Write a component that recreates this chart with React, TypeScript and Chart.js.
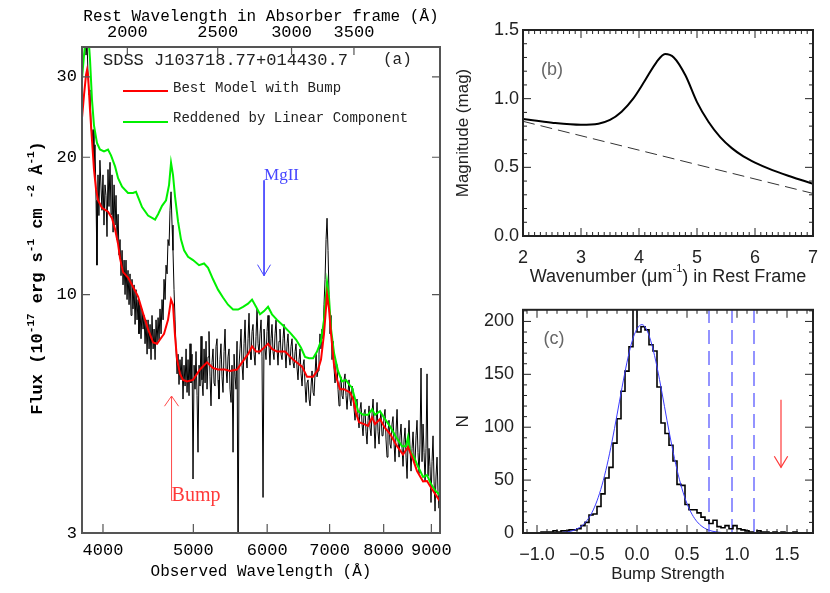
import React, { useEffect, useRef } from 'react';
import { Chart, registerables } from 'chart.js';
Chart.register(...registerables);

const MONO = '"Liberation Mono", "DejaVu Sans Mono", monospace';
const SERIF = '"Liberation Serif", "DejaVu Serif", serif';
const SANS = '"Liberation Sans", "DejaVu Sans", sans-serif';

// ---------------- Panel (a): spectrum ----------------
const restFactor = 2.124; // 1 + z of the absorber
const obsMin = 3798;
const obsMax = 9194;
const obsTicks = [4000, 5000, 6000, 7000, 8000, 9000];
const restTicks = [2000, 2500, 3000, 3500];
const fluxTicks = [3, 10, 20, 30];

const specWave = [
  3826, 3836, 3846, 3855, 3865, 3874, 3884, 3893, 3903, 3912, 3922, 3932, 3941, 3951, 3960, 3970,
  3990, 4000, 4010, 4020, 4030, 4040, 4050, 4060, 4070, 4080, 4090, 4101, 4111, 4121, 4131, 4141,
  4152, 4162, 4172, 4182, 4193, 4203, 4214, 4224, 4234, 4245, 4255, 4266, 4276, 4287, 4297, 4308,
  4319, 4330, 4340, 4351, 4362, 4372, 4383, 4394, 4405, 4416, 4427, 4438, 4449, 4460, 4471, 4482,
  4493, 4504, 4515, 4527, 4538, 4549, 4560, 4571, 4583, 4594, 4605, 4617, 4628, 4640, 4651, 4663,
  4674, 4686, 4697, 4709, 4720, 4732, 4744, 4755, 4767, 4779, 4791, 4803, 4815, 4826, 4838,
  4850, 4862, 4874, 4886, 4899, 4911, 4923, 4935, 4947, 4959,
  4971, 4984, 4996, 5009, 5021, 5033, 5046, 5058, 5071, 5083,
  5096, 5108, 5121, 5134, 5147, 5159, 5172, 5185, 5197, 5210,
  5223, 5236, 5249, 5262, 5275, 5288, 5301, 5314, 5327, 5340,
  5353, 5367, 5380, 5394, 5407, 5420, 5434, 5447, 5461, 5474,
  5488, 5501, 5515, 5529, 5543, 5556, 5570, 5584, 5597, 5611,
  5625, 5639, 5653, 5667, 5681, 5695, 5709, 5723, 5737, 5751,
  5765, 5780, 5794, 5809, 5823, 5837, 5852, 5866, 5881, 5895,
  5910, 5924, 5939, 5954, 5969, 5983, 5998, 6013, 6027, 6042,
  6057, 6072, 6087, 6102, 6118, 6133, 6148, 6163, 6178, 6193,
  6209, 6224, 6240, 6255, 6271, 6286, 6302, 6317, 6333, 6348,
  6364, 6380, 6396, 6412, 6428, 6443, 6459, 6475, 6491, 6507,
  6523, 6540, 6556, 6572, 6589, 6605, 6621, 6637, 6654, 6670,
  6687, 6703, 6720, 6736, 6753, 6770, 6786, 6803, 6819, 6836,
  6853, 6870, 6887, 6904, 6922, 6939, 6956, 6973, 6990, 7007,
  7025, 7042, 7060, 7077, 7095, 7112, 7130, 7147, 7165, 7182,
  7200, 7218, 7236, 7254, 7272, 7290, 7308, 7326, 7344, 7362,
  7380, 7399, 7417, 7436, 7454, 7472, 7491, 7509, 7528, 7546,
  7565, 7584, 7603, 7622, 7641, 7659, 7678, 7697, 7716, 7735,
  7754, 7774, 7793, 7812, 7832, 7851, 7870, 7889, 7909, 7928,
  7948, 7968, 7987, 8007, 8027, 8047, 8067, 8086, 8106, 8126,
  8146, 8167, 8187, 8208, 8228, 8248, 8269, 8289, 8310, 8330,
  8351, 8372, 8392, 8413, 8434, 8455, 8476, 8496, 8517, 8538,
  8559, 8581, 8602, 8623, 8645, 8666, 8687, 8708, 8730, 8751,
  8773, 8795, 8817, 8839, 8861, 8882, 8904, 8926, 8948, 8970,
  8992, 9015, 9037, 9060, 9082, 9104, 9127, 9149, 9172, 9194,
];
const specFlux = [
  37, 33.5, 35.5, 30.3, 27.4, 28.1, 23.5, 21.8, 23.0, 18.8, 21.3, 16.1, 11.6, 18.3, 14.9, 19.7,
  15.3, 18.3, 14.2, 17.4, 16.5, 13.4, 18.8, 15.6, 19.5, 15.0, 18.3, 13.7, 17.4, 14.2, 16.5, 13.2,
  15.0, 12.2, 13.2, 11.0, 12.5, 10.5, 11.9, 10.0, 11.9, 9.75, 11.3, 9.5, 11.1, 9.0, 10.8, 9.3,
  10.5, 8.6, 10.25, 8.8, 9.75, 8.2, 9.5, 8.0, 9.3, 8.4, 9.0, 7.8, 8.8, 7.4, 8.8, 7.6,
  8.6, 7.2, 9.0, 7.6, 8.4, 7.2, 8.8, 7.8, 8.9, 7.95, 9.3, 8.2, 9.75, 8.8, 10.8, 9.75,
  11.6, 11.1, 13.2, 12.8, 15.3, 16.8, 14.2, 12.5, 10.25, 8.8, 7.6, 6.7, 7.4, 6.35, 7.2,
  6.5, 7.3, 5.9, 7.0, 6.3, 7.6, 6.1, 7.2, 6.0, 7.8,
  6.4, 7.4, 3.94, 7.0, 6.2, 7.5, 6.0, 4.51, 7.0, 6.3,
  8.1, 6.5, 6.0, 7.6, 6.4, 7.9, 6.2, 7.3, 8.3, 6.6,
  5.7, 7.1, 7.6, 6.4, 6.3, 7.7, 8.0, 6.5, 5.9, 7.2,
  7.8, 6.6, 6.1, 7.5, 8.4, 6.9, 6.4, 7.3, 7.6, 6.2,
  5.8, 7.0, 4.51, 7.4, 6.6, 6.2, 7.9, 2.5, 7.0, 7.6,
  8.4, 7.0, 6.5, 7.8, 8.8, 7.3, 6.9, 8.0, 9.1, 7.5,
  7.2, 8.3, 8.6, 7.4, 7.0, 8.1, 9.3, 7.8, 7.4, 8.2,
  8.8, 7.3, 3.59, 8.4, 7.6, 7.2, 8.3, 9.0, 7.7, 7.0,
  8.0, 8.6, 7.5, 7.2, 8.2, 8.8, 7.6, 7.0, 7.9, 8.4,
  7.4, 7.2, 8.0, 8.6, 7.5, 6.9, 7.8, 8.2, 7.3, 7.0,
  7.7, 8.0, 7.1, 6.9, 7.5, 7.8, 6.9, 6.5, 7.2, 7.6,
  6.7, 6.3, 7.0, 7.2, 6.3, 5.8, 6.4, 6.5, 5.9, 5.7,
  6.3, 6.8, 6.1, 6.0, 6.7, 7.4, 6.6, 6.8, 7.4, 8.2,
  7.6, 8.4, 8.0, 9.5, 10.8, 13.2, 14.7, 12.5, 10.0, 8.2,
  9.0, 7.2, 7.9, 6.9, 6.4, 7.1, 7.0, 6.2, 5.7, 6.4,
  6.6, 6.0, 5.9, 6.5, 6.7, 6.0, 5.6, 6.1, 6.5, 5.9,
  5.7, 6.3, 6.2, 5.6, 5.3, 5.8, 5.9, 5.4, 5.1, 5.6,
  5.8, 5.2, 4.9, 5.5, 5.6, 5.0, 4.7, 5.3, 5.7, 5.1,
  4.9, 5.5, 5.9, 5.2, 4.6, 5.2, 5.8, 5.0, 4.7, 5.3,
  5.5, 4.9, 4.9, 5.4, 5.6, 4.8, 4.4, 5.0, 5.3, 4.7,
  4.6, 5.2, 5.4, 4.7, 4.3, 5.0, 5.6, 4.8, 4.4, 4.9,
  5.2, 4.6, 4.2, 4.8, 5.1, 4.4, 3.95, 4.7, 5.3, 4.6,
  4.1, 4.6, 5.0, 4.4, 4.3, 4.9, 5.3, 4.5, 4.05, 4.7,
  6.9, 4.3, 5.2, 4.5, 3.9, 4.6, 6.7, 4.0, 4.6, 4.2,
  3.5, 4.3, 4.9, 3.9, 3.35, 4.0, 4.4, 3.7, 3.4, 3.9,
];

const bestWave = [
  3798, 3817, 3836, 3846, 3855, 3874, 3893, 3912, 3932, 3951, 3990, 4050, 4090, 4121, 4152, 4172,
  4203, 4255, 4308, 4362, 4416, 4471, 4527, 4571, 4605, 4651, 4697, 4732, 4755, 4779, 4803, 4838,
  4874, 4923, 4996, 5083, 5172, 5249, 5314, 5407, 5474, 5570, 5639, 5723, 5780, 5837, 5895, 5954,
  6013, 6072, 6148, 6271, 6396, 6540, 6621, 6720, 6803, 6853, 6904, 6956, 6990, 7025, 7077, 7129,
  7182, 7254, 7308, 7362, 7417, 7472, 7528, 7622, 7697, 7774, 7831, 7928, 8027, 8126, 8269, 8392,
  8496, 8602, 8687, 8817, 8904, 9015, 9104, 9194,
];
const bestFlux = [
  24.4, 27.4, 30.3, 31.1, 30.3, 25.4, 21.8, 18.8, 17.0, 16.1, 15.5, 15.2, 14.7, 13.9, 12.9, 12.0,
  11.2, 10.9, 10.4, 9.9, 9.1, 8.4, 7.85, 7.8, 7.97, 8.2, 8.8, 9.75, 9.5, 8.1, 7.2, 6.7,
  6.5, 6.45, 6.5, 6.85, 7.1, 6.9, 6.85, 6.85, 6.8, 6.85, 7.1, 7.4, 7.7, 7.5, 7.5, 7.65,
  7.8, 7.6, 7.5, 7.5, 7.2, 6.95, 6.6, 6.6, 6.85, 7.2, 8.2, 10.0, 9.3, 8.2, 7.0, 6.5,
  6.2, 6.2, 6.15, 6.1, 5.9, 5.5, 5.25, 5.2, 5.15, 5.38, 5.2, 5.33, 5.1, 4.95, 4.65, 4.46,
  4.63, 4.35, 4.1, 3.89, 3.9, 3.74, 3.63, 3.52,
];

const linWave = [
  3798, 3817, 3836, 3855, 3874, 3893, 3912, 3941, 3970, 4010, 4050, 4080, 4121, 4152, 4193, 4255,
  4308, 4340, 4405, 4471, 4549, 4583, 4628, 4674, 4709, 4732, 4755, 4779, 4815, 4850, 4887, 4935,
  4996, 5071, 5134, 5185, 5249, 5314, 5380, 5447, 5515, 5584, 5653, 5723, 5780, 5837, 5895, 5954,
  6013, 6072, 6148, 6240, 6348, 6443, 6523, 6588, 6654, 6720, 6786, 6853, 6904, 6939, 6956, 6990,
  7025, 7077, 7147, 7218, 7290, 7344, 7399, 7454, 7509, 7603, 7697, 7774, 7831, 7928, 8027, 8126,
  8248, 8372, 8455, 8496, 8538, 8623, 8687, 8817, 8904, 8992, 9082, 9194,
];
const linFlux = [
  29.8, 33.5, 37, 38, 32.7, 26.7, 23.5, 21.5, 20.8, 20.6, 20.8, 20.2, 19.1, 18.0, 17.25, 16.7,
  16.7, 16.8, 15.55, 14.9, 14.6, 15.0, 15.65, 16.1, 17.4, 19.45, 18.3, 16.4, 14.45, 13.2, 12.5, 12.1,
  11.9, 11.6, 11.7, 11.45, 10.8, 10.25, 9.85, 9.5, 9.27, 9.27, 9.4, 9.55, 9.75, 9.4, 9.05, 9.2,
  9.4, 9.05, 8.8, 8.55, 8.25, 7.97, 7.65, 7.3, 7.25, 7.25, 7.5, 7.9, 8.8, 10.0, 10.65, 9.85,
  8.4, 7.45, 6.8, 6.45, 6.5, 6.35, 6.25, 5.9, 5.55, 5.45, 5.45, 5.6, 5.45, 5.55, 5.33, 5.14,
  4.87, 4.65, 4.65, 4.87, 4.53, 4.4, 4.24, 3.98, 4.02, 3.84, 3.72, 3.63,
];

// annotation arrows (wavelength, flux)
const mgiiShaftWave = [5954, 5954];
const mgiiShaftFlux = [17.8, 11.0];
const mgiiHeadWave = [5859, 5954, 6050];
const mgiiHeadFlux = [11.63, 11.0, 11.63];
const bumpShaftWave = [4738, 4738];
const bumpShaftFlux = [3.53, 5.99];
const bumpHeadWave = [4656, 4738, 4821];
const bumpHeadFlux = [5.69, 5.99, 5.69];

// ---------------- Panel (b): extinction curve ----------------
const waveNumber = [2.0, 2.5, 3.0, 3.3, 3.5, 3.7, 3.9, 4.1, 4.3, 4.45, 4.6, 4.8, 5.0, 5.2, 5.4, 5.6, 5.8, 6.0, 6.3, 6.6, 7.0];
const magWithBump = [0.852, 0.825, 0.81, 0.818, 0.845, 0.905, 1.0, 1.13, 1.265, 1.325, 1.3, 1.17, 0.975, 0.83, 0.72, 0.64, 0.58, 0.535, 0.48, 0.435, 0.38];
const linearWaveNumber = [2.0, 7.0];
const magLinear = [0.835, 0.31];
const bTicksX = [2, 3, 4, 5, 6, 7];
const bTicksY = [0, 0.5, 1.0, 1.5];

// ---------------- Panel (c): bump strength histogram ----------------
const histEdges = [
  -1.0, -0.96, -0.92, -0.88, -0.84, -0.8, -0.76, -0.72, -0.68, -0.64, -0.6, -0.56, -0.52, -0.48, -0.44, -0.4,
  -0.36, -0.32, -0.28, -0.24, -0.2, -0.16, -0.12, -0.08, -0.04, 0.0, 0.04, 0.08, 0.12, 0.16, 0.2, 0.24,
  0.28, 0.32, 0.36, 0.4, 0.44, 0.48, 0.52, 0.56, 0.6, 0.64, 0.68, 0.72, 0.76, 0.8, 0.84, 0.88,
  0.92, 0.96, 1.0, 1.04, 1.08, 1.12, 1.16, 1.2, 1.24, 1.28, 1.32, 1.36, 1.4, 1.44, 1.48, 1.52,
  1.56, 1.6, 1.64, 1.68, 1.72,
];
const histCounts = [
  0, 1, 1, 1, 2, 1, 2, 2, 3, 3, 4, 7, 10, 17, 18, 25,
  37, 52, 62, 85, 108, 134, 153, 176, 214, 190, 195, 192, 178, 172, 138, 104,
  94, 83, 68, 46, 45, 27, 22, 22, 19, 15, 12, 9, 12, 6, 5, 7,
  4, 7, 4, 3, 2, 1, 0, 2, 1, 1, 0, 1, 0, 1, 0, 0,
  1, 0, 0, 0, 0,
];
const gaussX = [-1.0, -0.9, -0.8, -0.7, -0.65, -0.6, -0.55, -0.5, -0.45, -0.4, -0.35, -0.3, -0.25, -0.2, -0.15, -0.1, -0.05, 0.0, 0.05, 0.1, 0.15, 0.2, 0.25, 0.3, 0.35, 0.4, 0.45, 0.5, 0.55, 0.6, 0.65, 0.7, 0.75, 0.8, 0.9, 1.0];
const gaussN = [0, 0.1, 0.3, 1.0, 2.0, 3.9, 6.9, 11.9, 19.4, 30.4, 45.2, 64, 86.5, 111.6, 137.5, 161.5, 181, 193, 197, 191.5, 177.5, 157, 132.5, 106.4, 81.8, 59.8, 41.8, 27.8, 17.7, 10.7, 6.2, 3.4, 1.8, 0.9, 0.2, 0];
const thresholds = [0.72, 0.95, 1.17];
const arrowCX = [1.44, 1.44];
const arrowCY = [126, 62];
const arrowHeadCX = [1.373, 1.44, 1.507];
const arrowHeadCY = [72.6, 62, 72.6];
const cTicksX = [-1.0, -0.5, 0.0, 0.5, 1.0, 1.5];
const cTicksY = [0, 50, 100, 150, 200];

// ---------------- helpers ----------------
const pts = (xs: number[], ys: number[]) => xs.map((x, i) => ({ x, y: ys[i] }));
const fixSize = (w?: number, h?: number) => (s: any) => {
  if (w !== undefined) s.width = w;
  if (h !== undefined) s.height = h;
};
const setTicks = (values: number[]) => (s: any) => {
  s.ticks = values.map((v) => ({ value: v }));
};
const minorTicks = (a: number, b: number, step: number, major: number) => {
  const out: number[] = [];
  const n = Math.round((b - a) / step);
  for (let i = 0; i <= n; i++) {
    const v = Math.round((a + i * step) * 1000) / 1000;
    const r = v / major;
    if (Math.abs(r - Math.round(r)) > 1e-6) out.push(v);
  }
  return out;
};

type TickSpec = { scale: string; values: number[]; len: number; sides: string[] };
const makeFrame = (color: string, width: number, tickWidth: number, specs: TickSpec[]) => ({
  id: 'frameTicks',
  afterDatasetsDraw(chart: any) {
    const { ctx, chartArea: a } = chart;
    ctx.save();
    ctx.strokeStyle = color;
    ctx.lineWidth = tickWidth;
    ctx.beginPath();
    for (const t of specs) {
      const s = chart.scales[t.scale];
      for (const v of t.values) {
        const p = s.getPixelForValue(v);
        for (const side of t.sides) {
          if (side === 'bottom') { ctx.moveTo(p, a.bottom); ctx.lineTo(p, a.bottom - t.len); }
          if (side === 'top') { ctx.moveTo(p, a.top); ctx.lineTo(p, a.top + t.len); }
          if (side === 'left') { ctx.moveTo(a.left, p); ctx.lineTo(a.left + t.len, p); }
          if (side === 'right') { ctx.moveTo(a.right, p); ctx.lineTo(a.right - t.len, p); }
        }
      }
    }
    ctx.stroke();
    ctx.lineWidth = width;
    ctx.strokeRect(a.left, a.top, a.right - a.left, a.bottom - a.top);
    ctx.restore();
  },
});

type Part = { t: string; sup?: boolean };
type TextItem = {
  text?: string; parts?: Part[]; x: number; y: number; data?: boolean; xs?: string; ys?: string;
  family?: string; size?: number; weight?: string; color: string; align?: string; baseline?: string;
  rotate?: number; lineTo?: number; width?: number;
};
const makeTexts = (items: TextItem[]) => ({
  id: 'texts',
  afterDatasetsDraw(chart: any) {
    const { ctx, scales } = chart;
    for (const it of items) {
      let x = it.x;
      let y = it.y;
      if (it.data) {
        x = scales[it.xs || 'x'].getPixelForValue(it.x);
        y = scales[it.ys || 'y'].getPixelForValue(it.y);
      }
      ctx.save();
      ctx.translate(x, y);
      if (it.rotate) ctx.rotate(it.rotate);
      if (it.lineTo !== undefined) {
        ctx.strokeStyle = it.color;
        ctx.lineWidth = it.width || 2;
        ctx.beginPath();
        ctx.moveTo(0, 0);
        ctx.lineTo(it.lineTo, 0);
        ctx.stroke();
        ctx.restore();
        continue;
      }
      const size = it.size || 16;
      const parts: Part[] = it.parts || [{ t: it.text || '' }];
      const fontFor = (sup?: boolean) => `${it.weight || 'normal'} ${sup ? Math.round(size * 0.62) : size}px ${it.family || SANS}`;
      const widths = parts.map((p) => { ctx.font = fontFor(p.sup); return ctx.measureText(p.t).width; });
      const total = widths.reduce((s, w) => s + w, 0);
      let cx = it.align === 'center' ? -total / 2 : it.align === 'right' ? -total : 0;
      ctx.fillStyle = it.color;
      ctx.textAlign = 'left';
      ctx.textBaseline = (it.baseline || 'middle') as CanvasTextBaseline;
      parts.forEach((p, i) => {
        ctx.font = fontFor(p.sup);
        ctx.fillText(p.t, cx, p.sup ? -size * 0.42 : 0);
        cx += widths[i];
      });
      ctx.restore();
    }
  },
});

const noGrid = { display: false, drawTicks: false };
const noBorder = { display: false };
const baseOptions = {
  animation: false,
  responsive: false,
  events: [],
  plugins: { legend: { display: false }, tooltip: { enabled: false } },
};
const line = (data: any[], color: string, width: number, extra: any = {}) => ({
  data, borderColor: color, backgroundColor: color, borderWidth: width, pointRadius: 0, fill: false, tension: 0, ...extra,
});

// ---------------- configs ----------------
const configA = () => ({
  type: 'line',
  data: {
    datasets: [
      line(pts(bestWave, bestFlux), '#ff0000', 2),
      line(pts(linWave, linFlux), '#00f000', 2),
      line(pts(specWave, specFlux), '#000000', 1),
      line(pts(mgiiShaftWave, mgiiShaftFlux), '#4646ff', 1),
      line(pts(mgiiHeadWave, mgiiHeadFlux), '#4646ff', 1),
      line(pts(bumpShaftWave, bumpShaftFlux), '#ff4a4a', 1),
      line(pts(bumpHeadWave, bumpHeadFlux), '#ff4a4a', 1),
    ],
  },
  options: {
    ...baseOptions,
    layout: { padding: { right: 20 } },
    scales: {
      x: {
        type: 'logarithmic', position: 'bottom', min: obsMin, max: obsMax,
        afterFit: fixSize(undefined, 60), afterBuildTicks: setTicks(obsTicks),
        grid: noGrid, border: noBorder,
        ticks: { callback: (v: number) => String(v), font: { family: MONO, size: 17 }, color: '#000', padding: 7, maxRotation: 0, minRotation: 0, autoSkip: false },
        title: { display: true, text: 'Observed Wavelength (Å)', font: { family: MONO, size: 16 }, color: '#000', padding: { top: 0, bottom: 12 } },
      },
      x2: {
        type: 'logarithmic', position: 'top', axis: 'x', min: obsMin / restFactor, max: obsMax / restFactor,
        afterFit: fixSize(undefined, 47), afterBuildTicks: setTicks(restTicks),
        grid: noGrid, border: noBorder,
        ticks: { callback: (v: number) => String(v), font: { family: MONO, size: 17 }, color: '#000', padding: 4, maxRotation: 0, minRotation: 0, autoSkip: false },
        title: { display: true, text: 'Rest Wavelength in Absorber frame (Å)', font: { family: MONO, size: 16 }, color: '#000', padding: { top: 7, bottom: 0 } },
      },
      y: {
        type: 'logarithmic', position: 'left', min: 3, max: 34.9,
        afterFit: fixSize(82), afterBuildTicks: setTicks(fluxTicks),
        grid: noGrid, border: noBorder,
        ticks: { callback: (v: number) => String(v), font: { family: MONO, size: 17 }, color: '#000', padding: 5, autoSkip: false },
      },
    },
  },
  plugins: [
    makeFrame('#555', 2, 1.2, [
      { scale: 'x', values: obsTicks, len: 9, sides: ['bottom'] },
      { scale: 'x2', values: restTicks, len: 8, sides: ['top'] },
      { scale: 'y', values: fluxTicks.slice(1), len: 8, sides: ['left', 'right'] },
    ]),
    makeTexts([
      { text: 'SDSS J103718.77+014430.7', x: 103, y: 60, family: MONO, size: 17, color: '#222' },
      { text: '(a)', x: 383, y: 60, family: MONO, size: 16, color: '#222' },
      { x: 123, y: 91, lineTo: 45, color: '#ff0000', width: 2 },
      { text: 'Best Model with Bump', x: 173, y: 88, family: MONO, size: 14, color: '#222' },
      { x: 123, y: 122, lineTo: 45, color: '#00f000', width: 2 },
      { text: 'Reddened by Linear Component', x: 173, y: 118, family: MONO, size: 14, color: '#222' },
      { text: 'MgII', data: true, x: 5954, y: 17.8, family: SERIF, size: 17, color: '#4646ff', baseline: 'alphabetic' },
      { text: 'Bump', data: true, x: 4738, y: 3.53, family: SERIF, size: 20, color: '#ff3a3a', baseline: 'alphabetic' },
      {
        parts: [
          { t: 'Flux (10' }, { t: '-17', sup: true }, { t: ' erg s' }, { t: '-1', sup: true },
          { t: ' cm ' }, { t: '-2', sup: true }, { t: ' Å' }, { t: '-1', sup: true }, { t: ')' },
        ],
        x: 38, y: 278, rotate: -Math.PI / 2, family: MONO, size: 17, weight: 'bold', color: '#000', align: 'center',
      },
    ]),
  ],
});

const configB = () => ({
  type: 'line',
  data: {
    datasets: [
      line(pts(waveNumber, magWithBump), '#000', 2, { cubicInterpolationMode: 'monotone' }),
      line(pts(linearWaveNumber, magLinear), '#333', 1, { borderDash: [12, 6] }),
    ],
  },
  options: {
    ...baseOptions,
    layout: { padding: { right: 17, top: 30 } },
    scales: {
      x: {
        type: 'linear', position: 'bottom', min: 2, max: 7,
        afterFit: fixSize(undefined, 54), afterBuildTicks: setTicks(bTicksX),
        grid: noGrid, border: noBorder,
        ticks: { callback: (v: number) => String(v), font: { family: SANS, size: 18 }, color: '#222', padding: 11, maxRotation: 0, autoSkip: false },
      },
      y: {
        type: 'linear', position: 'left', min: 0, max: 1.5,
        afterFit: fixSize(73), afterBuildTicks: setTicks(bTicksY),
        grid: noGrid, border: noBorder,
        ticks: { callback: (v: number) => v.toFixed(1), font: { family: SANS, size: 18 }, color: '#222', padding: 4, autoSkip: false },
        title: { display: true, text: 'Magnitude (mag)', font: { family: SANS, size: 17 }, color: '#222', padding: { top: 3, bottom: 0 } },
      },
    },
  },
  plugins: [
    makeFrame('#222', 2, 1, [
      { scale: 'x', values: bTicksX, len: 8, sides: ['bottom', 'top'] },
      { scale: 'x', values: minorTicks(2, 7, 0.1, 1), len: 4, sides: ['bottom', 'top'] },
      { scale: 'y', values: bTicksY, len: 8, sides: ['left', 'right'] },
      { scale: 'y', values: minorTicks(0, 1.5, 0.1, 0.5), len: 4, sides: ['left', 'right'] },
    ]),
    makeTexts([
      { text: '(b)', x: 102, y: 70, family: SANS, size: 18, color: '#666', align: 'center' },
      {
        parts: [{ t: 'Wavenumber (μm' }, { t: '-1', sup: true }, { t: ') in Rest Frame' }],
        x: 218, y: 277, family: SANS, size: 18, color: '#222', align: 'center',
      },
    ]),
  ],
});

const configC = () => ({
  type: 'line',
  data: {
    datasets: [
      line(pts(gaussX, gaussN), '#3a3aff', 1, { cubicInterpolationMode: 'monotone' }),
      line(pts(histEdges, histCounts), '#000', 1.6, { stepped: true }),
      ...thresholds.map((t) => line(pts([t, t], [0, 215]), '#4b4bff', 1.2, { borderDash: [14, 7] })),
      line(pts(arrowCX, arrowCY), '#ff3a3a', 1.2),
      line(pts(arrowHeadCX, arrowHeadCY), '#ff3a3a', 1.2),
    ],
  },
  options: {
    ...baseOptions,
    layout: { padding: { right: 17, top: 7 } },
    scales: {
      x: {
        type: 'linear', position: 'bottom', min: -1.14, max: 1.76,
        afterFit: fixSize(undefined, 60), afterBuildTicks: setTicks(cTicksX),
        grid: noGrid, border: noBorder,
        ticks: { callback: (v: number) => v.toFixed(1).replace('-', '−'), font: { family: SANS, size: 18 }, color: '#222', padding: 11, maxRotation: 0, autoSkip: false },
        title: { display: true, text: 'Bump Strength', font: { family: SANS, size: 17 }, color: '#222', padding: { top: 0, bottom: 8 } },
      },
      y: {
        type: 'linear', position: 'left', min: 0, max: 211,
        afterFit: fixSize(73), afterBuildTicks: setTicks(cTicksY),
        grid: noGrid, border: noBorder,
        ticks: { callback: (v: number) => String(v), font: { family: SANS, size: 18 }, color: '#222', padding: 9, autoSkip: false },
        title: { display: true, text: 'N', font: { family: SANS, size: 17 }, color: '#222', padding: { top: 3, bottom: 0 } },
      },
    },
  },
  plugins: [
    makeFrame('#222', 2, 1, [
      { scale: 'x', values: cTicksX, len: 8, sides: ['bottom', 'top'] },
      { scale: 'x', values: minorTicks(-1.1, 1.7, 0.1, 0.5), len: 4, sides: ['bottom', 'top'] },
      { scale: 'y', values: cTicksY, len: 8, sides: ['left', 'right'] },
      { scale: 'y', values: minorTicks(0, 210, 10, 50), len: 4, sides: ['left', 'right'] },
    ]),
    makeTexts([
      { text: '(c)', x: 104, y: 49, family: SANS, size: 18, color: '#666', align: 'center' },
    ]),
  ],
});

function ChartCanvas({ make, left, top, width, height }: { make: () => any; left: number; top: number; width: number; height: number }) {
  const ref = useRef<HTMLCanvasElement>(null);
  useEffect(() => {
    const chart = new Chart(ref.current as HTMLCanvasElement, make());
    return () => chart.destroy();
  }, [make]);
  return <canvas ref={ref} width={width} height={height} style={{ position: 'absolute', left, top, width, height }} />;
}

export default function App() {
  return (
    <div style={{ position: 'absolute', left: 0, top: 0, width: 830, height: 593, background: '#fff', overflow: 'hidden' }}>
      <ChartCanvas make={configA} left={0} top={0} width={460} height={593} />
      <ChartCanvas make={configB} left={450} top={0} width={380} height={290} />
      <ChartCanvas make={configC} left={450} top={290} width={380} height={303} />
    </div>
  );
}
